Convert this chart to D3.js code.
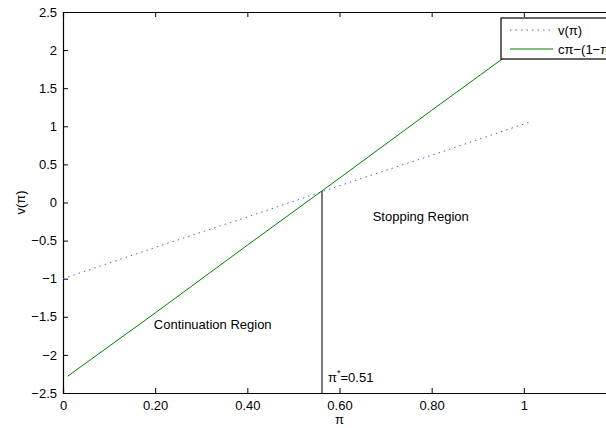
<!DOCTYPE html>
<html>
<head>
<meta charset="utf-8">
<script src="https://cdn.jsdelivr.net/npm/d3@7"></script>
<style>
  body { margin: 0; background: #fff; }
  svg { display: block; font-family: "Liberation Sans", Arial, sans-serif; }
  .tick text { font-size: 13px; fill: #000; }
  .lbl { font-size: 13px; fill: #000; }
</style>
</head>
<body>
<div id="chart"></div>
<script>
// values
const piV = [0, 0.2, 0.4, 0.6, 0.8, 1.01];
const vPi = [-1.0, -0.59, -0.19, 0.22, 0.62, 1.05];

const piStop = [0.01, 0.2, 0.4, 0.6, 0.8, 1.0];
const stopVal = [-2.28, -1.45, -0.56, 0.32, 1.21, 2.09];

const piStar = 0.562;
const piStarVal = 0.15;

const xTicks = [0, 0.2, 0.4, 0.6, 0.8, 1];
const xTickLabels = ["0", "0.20", "0.40", "0.60", "0.80", "1"];
const yTicks = [-2.5, -2, -1.5, -1, -0.5, 0, 0.5, 1, 1.5, 2, 2.5];

const seriesNames = ["v(\u03c0)", "c\u03c0\u2212(1\u2212\u03c0)"];

const W = 606, H = 428;
const mLeft = 63, mRight = 616, mTop = 12, mBottom = 393;

const x = d3.scaleLinear().domain([0, 1.2]).range([mLeft, mRight]);
const y = d3.scaleLinear().domain([-2.5, 2.5]).range([mBottom, mTop]);

const svg = d3.select("#chart").append("svg")
  .attr("width", W)
  .attr("height", H);

svg.append("defs").append("clipPath").attr("id", "plot")
  .append("rect").attr("x", mLeft).attr("y", mTop)
  .attr("width", mRight - mLeft).attr("height", mBottom - mTop);

const fmtY = d => (d < 0 ? "\u2212" : "") + Math.abs(d);

// axes with inward ticks
const xAxis = svg.append("g").attr("transform", "translate(0," + mBottom + ")")
  .call(d3.axisBottom(x).tickValues(xTicks).tickSize(-5).tickPadding(8)
    .tickFormat((d, i) => xTickLabels[i]));
const xTop = svg.append("g").attr("transform", "translate(0," + mTop + ")")
  .call(d3.axisTop(x).tickValues(xTicks).tickSize(-5).tickFormat(""));
const yAxis = svg.append("g").attr("transform", "translate(" + mLeft + ",0)")
  .call(d3.axisLeft(y).tickValues(yTicks).tickSize(-5).tickPadding(6).tickFormat(fmtY));
const yRight = svg.append("g").attr("transform", "translate(" + mRight + ",0)")
  .call(d3.axisRight(y).tickValues(yTicks).tickSize(-5).tickFormat(""));

[xAxis, xTop, yAxis, yRight].forEach(g => {
  g.select(".domain").attr("stroke", "#000").attr("stroke-width", 1.2);
  g.selectAll(".tick line").attr("stroke", "#000");
});

const plot = svg.append("g").attr("clip-path", "url(#plot)");

const line = d3.line().x(d => x(d[0])).y(d => y(d[1]));

plot.append("path")
  .datum(piV.map((p, i) => [p, vPi[i]]))
  .attr("d", line)
  .attr("fill", "none")
  .attr("stroke", "#5555ff")
  .attr("stroke-width", 1)
  .attr("stroke-dasharray", "1.5,4");

plot.append("path")
  .datum(piStop.map((p, i) => [p, stopVal[i]]))
  .attr("d", line)
  .attr("fill", "none")
  .attr("stroke", "#008000")
  .attr("stroke-width", 1);

plot.append("line")
  .attr("x1", x(piStar)).attr("x2", x(piStar))
  .attr("y1", y(piStarVal)).attr("y2", y(-2.5))
  .attr("stroke", "#333")
  .attr("stroke-width", 1.3);

// annotations
svg.append("text").attr("class", "lbl")
  .attr("x", x(0.672)).attr("y", y(-0.243))
  .text("Stopping Region");
svg.append("text").attr("class", "lbl")
  .attr("x", x(0.197)).attr("y", y(-1.66))
  .text("Continuation Region");
const ps = svg.append("text").attr("class", "lbl")
  .attr("x", x(0.575)).attr("y", y(-2.36));
ps.append("tspan").text("\u03c0");
ps.append("tspan").attr("dy", -6).attr("font-size", 9).text("*");
ps.append("tspan").attr("dy", 6).text("=0.51");

// axis labels
svg.append("text").attr("class", "lbl")
  .attr("x", x(0.6)).attr("y", 424)
  .attr("text-anchor", "middle")
  .text("\u03c0");
svg.append("text").attr("class", "lbl")
  .attr("transform", "translate(25," + y(0) + ") rotate(-90)")
  .attr("text-anchor", "middle")
  .text("v(\u03c0)");

// legend
const lg = svg.append("g").attr("transform", "translate(501,18)");
lg.append("rect")
  .attr("width", 140).attr("height", 41)
  .attr("fill", "#fff").attr("stroke", "#000").attr("stroke-width", 1.2);
const styles = [
  { stroke: "#5555ff", dash: "1.5,4" },
  { stroke: "#008000", dash: null }
];
seriesNames.forEach((name, i) => {
  const yy = 12 + i * 19;
  lg.append("line")
    .attr("x1", 9).attr("x2", 52).attr("y1", yy).attr("y2", yy)
    .attr("stroke", styles[i].stroke)
    .attr("stroke-width", 1)
    .attr("stroke-dasharray", styles[i].dash);
  lg.append("text").attr("class", "lbl")
    .attr("x", 57).attr("y", yy).attr("dy", "0.35em")
    .text(name);
});
</script>
</body>
</html>
